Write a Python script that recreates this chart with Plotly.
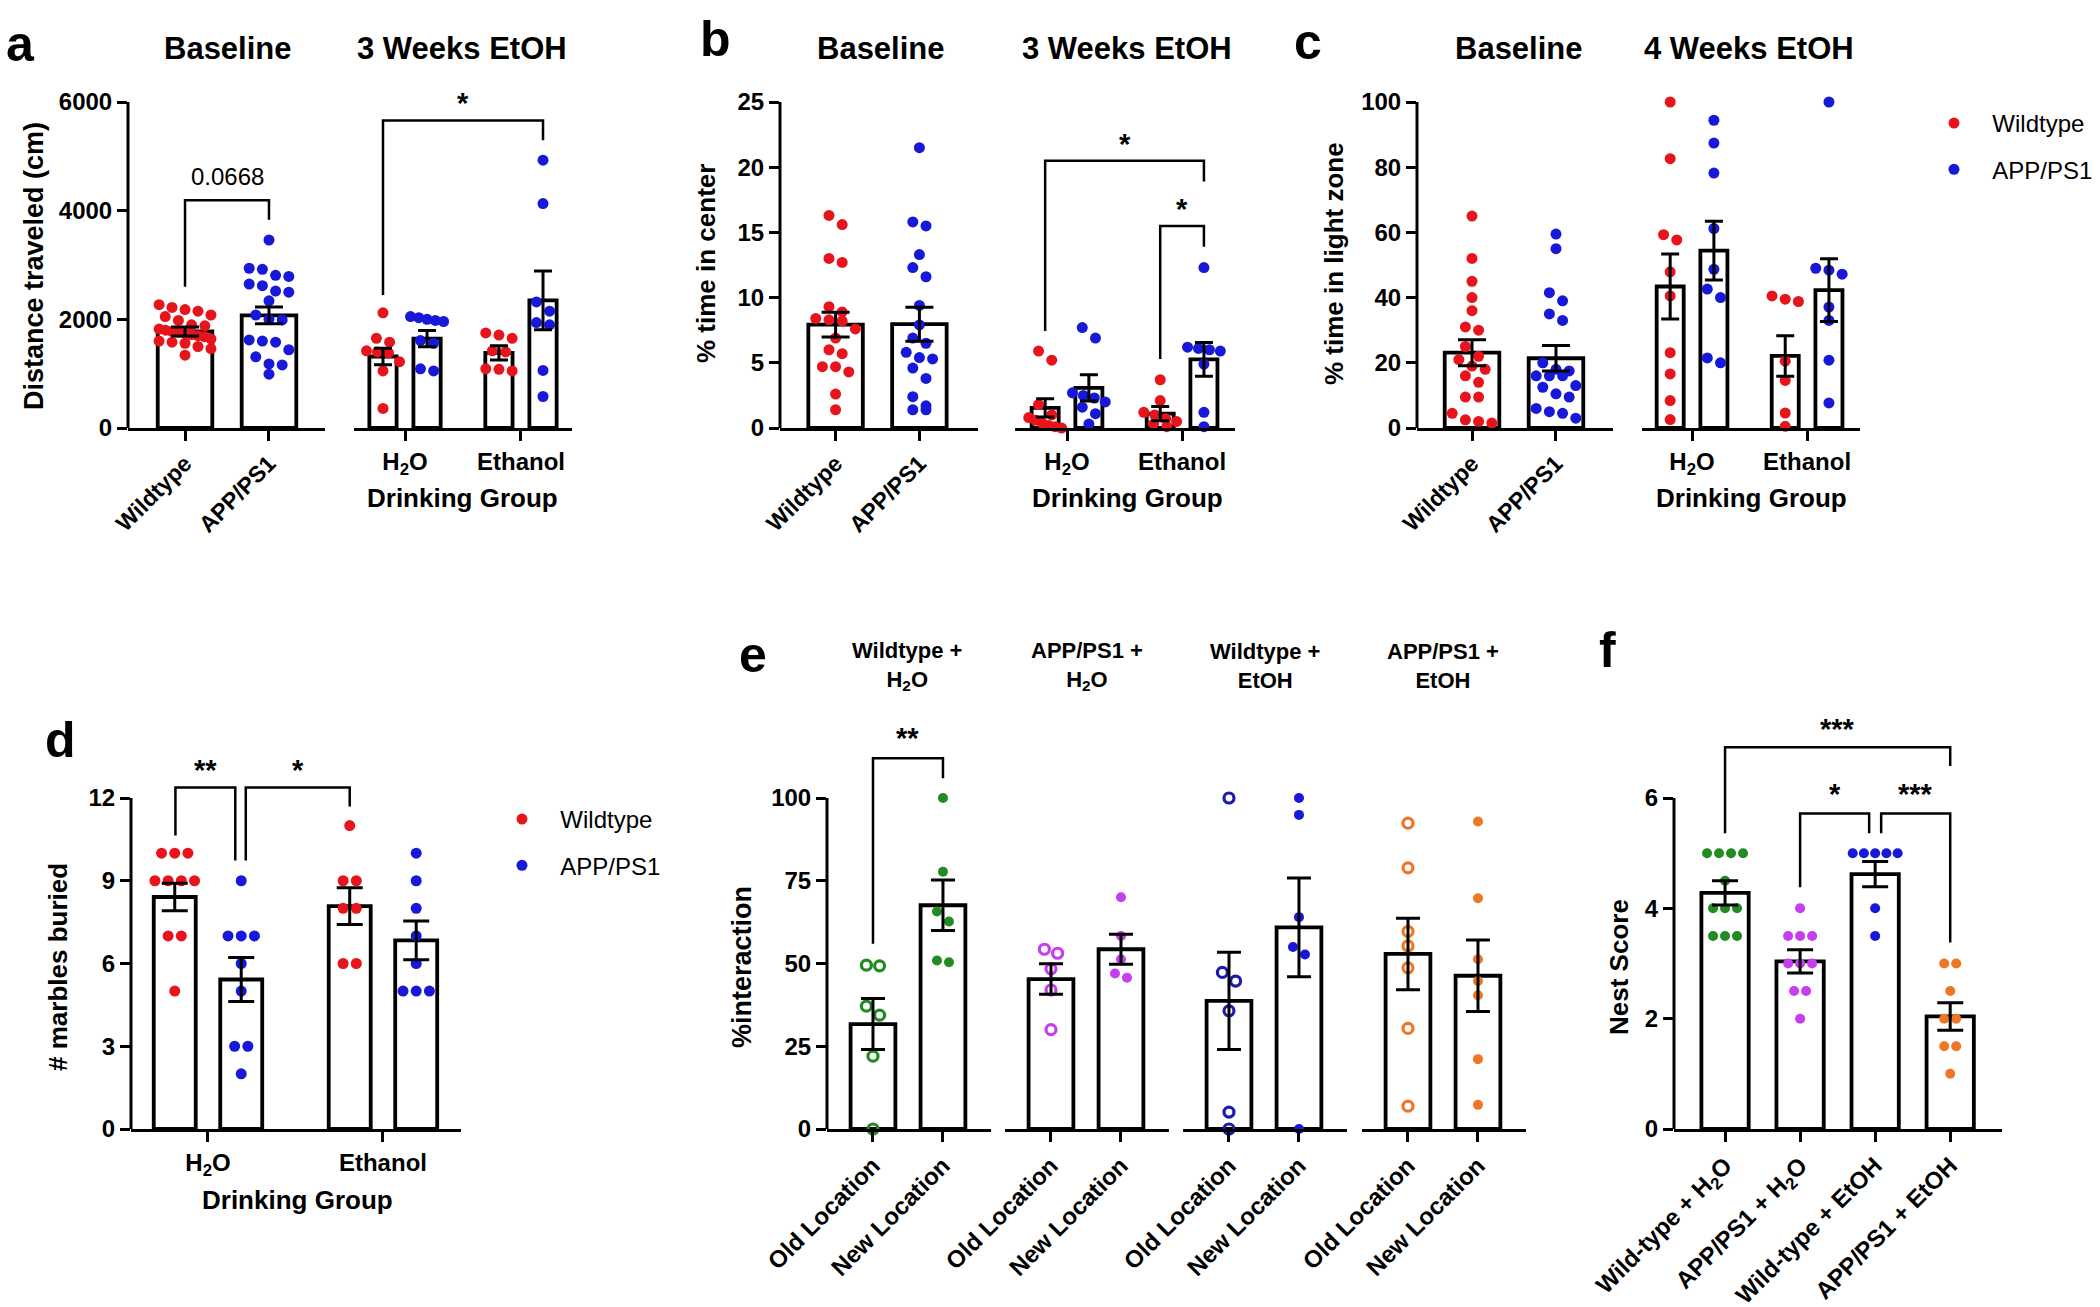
import plotly.graph_objects as go

W, H = 2100, 1307
FONT = "Liberation Sans, Arial, Helvetica, sans-serif"

RED = "#e8141c"
BLUE = "#1818d8"
GREEN = "#228b22"
MAGENTA = "#c63ef0"
NAVY = "#1c1ca8"
ORANGE = "#ef7625"

# ---------------- data ----------------
# a: distance traveled (cm)
a_wt_base = [2270, 2220, 2180, 2150, 2080, 2050, 1980, 1900, 1880, 1820, 1800, 1780,
             1760, 1740, 1720, 1700, 1680, 1640, 1600, 1580, 1560, 1500, 1460, 1340]
a_app_base = [3460, 2940, 2920, 2810, 2790, 2650, 2620, 2520, 2500, 2340, 2080, 2000,
              1990, 1620, 1600, 1580, 1440, 1310, 1180, 1160, 990]
a_base_mean = [1776, 2072]
a_base_sem = [85, 155]
a_wt_h2o = [2120, 1650, 1580, 1420, 1400, 1380, 1220, 1050, 360]
a_app_h2o = [2050, 2030, 2000, 1980, 1960, 1610, 1560, 1090, 1050]
a_wt_etoh = [1750, 1710, 1650, 1420, 1400, 1090, 1080, 1050]
a_app_etoh = [4930, 4130, 2320, 2150, 1940, 1900, 1060, 580]
a_drink_mean = [1316, 1645, 1382, 2349]
a_drink_sem = [150, 150, 130, 540]

# b: % time in center
b_wt_base = [16.3, 15.6, 13.0, 12.7, 9.3, 8.9, 8.4, 8.3, 8.2, 7.6, 6.9, 6.0, 5.7, 4.7,
             4.7, 4.3, 2.6, 1.4]
b_app_base = [21.5, 15.8, 15.5, 13.3, 12.3, 11.6, 9.4, 7.9, 6.9, 6.5, 5.8, 5.4, 5.3,
              4.6, 3.8, 2.4, 1.7, 1.4, 1.4]
b_base_mean = [7.93, 7.96]
b_base_sem = [0.95, 1.3]
b_wt_h2o = [5.9, 5.2, 1.8, 1.0, 0.8, 0.6, 0.4, 0.2, 0.1, 0.0]
b_app_h2o = [7.7, 6.9, 2.7, 2.5, 2.3, 2.0, 1.6, 1.1, 0.3]
b_wt_etoh = [3.7, 2.1, 1.2, 1.0, 0.7, 0.5, 0.3, 0.1]
b_app_etoh = [12.3, 6.2, 6.1, 6.0, 5.9, 4.9, 1.2, 0.1]
b_drink_mean = [1.54, 3.08, 1.1, 5.26]
b_drink_sem = [0.7, 1.0, 0.55, 1.3]

# c: % time in light zone
c_wt_base = [65, 52, 45, 40, 36, 31, 30, 25, 22, 21, 19, 18, 16, 14, 9.5, 9.5, 4.5, 2.5,
             2, 1.5]
c_app_base = [59.5, 55, 41.5, 39, 35, 33, 20, 18, 17.5, 16, 16, 16, 13, 12.5, 10.5, 9.5,
              6, 5, 4.5, 3]
c_base_mean = [23.1, 21.4]
c_base_sem = [4.0, 3.9]
c_wt_h2o = [100, 82.6, 59.3, 57.7, 47.9, 40.5, 23.1, 16.6, 8.4, 2.6]
c_app_h2o = [94.4, 87.4, 78.2, 61.2, 48.7, 42.6, 40.0, 21.5, 20.0]
c_wt_etoh = [40.5, 39.5, 38.8, 20.5, 14.6, 4.6, 0.5]
c_app_etoh = [100, 49.0, 48.4, 47.2, 37.1, 33.0, 20.8, 7.7]
c_drink_mean = [43.4, 54.4, 22.1, 42.3]
c_drink_sem = [10, 9, 6.2, 9.6]

# d: marbles buried
d_wt_h2o = [10, 10, 10, 9, 9, 9, 9, 7, 7, 5]
d_app_h2o = [9, 7, 7, 7, 6, 5, 3, 3, 2]
d_wt_etoh = [11, 9, 9, 8, 8, 6, 6]
d_app_etoh = [10, 9, 8, 7, 6, 5, 5, 5]
d_mean = [8.41, 5.42, 8.08, 6.84]
d_sem = [0.5, 0.8, 0.67, 0.7]

# e: % interaction, old vs new location
e_groups = ["Wildtype +<br>H<sub>2</sub>O", "APP/PS1 +<br>H<sub>2</sub>O",
            "Wildtype +<br>EtOH", "APP/PS1 +<br>EtOH"]
e_old = [[49.5, 49.3, 37.1, 34.4, 22.0, 0.0],
         [54.3, 53.1, 48.4, 42.0, 30.0],
         [100, 47.3, 44.7, 35.7, 5.1, 0.0],
         [92.4, 78.9, 59.7, 55.3, 48.7, 30.4, 6.9]]
e_new = [[100, 77.7, 65.7, 62.7, 50.9, 50.4],
         [70, 58.3, 51.3, 47.0, 45.7],
         [100, 94.9, 64, 55, 52.7, 0],
         [92.9, 69.7, 51.3, 44.7, 40.4, 21.1, 7.3]]
e_old_mean = [31.7, 45.3, 38.7, 52.9]
e_old_sem = [7.7, 4.6, 14.7, 10.8]
e_new_mean = [67.6, 54.3, 60.9, 46.3]
e_new_sem = [7.6, 4.5, 14.9, 10.8]

# f: nest score
f_labels = ["Wild-type + H<sub>2</sub>O", "APP/PS1 + H<sub>2</sub>O",
            "Wild-type + EtOH", "APP/PS1 + EtOH"]
f_points = [[5, 5, 5, 5, 4.5, 4, 4, 4, 3.5, 3.5, 3.5],
            [4, 3.5, 3.5, 3.5, 3, 3, 3, 2.5, 2.5, 2],
            [5, 5, 5, 5, 5, 4, 3.5],
            [3, 3, 2.5, 2, 2, 1.5, 1.5, 1]]
f_mean = [4.28, 3.04, 4.62, 2.04]
f_sem = [0.22, 0.21, 0.23, 0.25]

# ---------------- helpers ----------------
fig = go.Figure()
axes_layout = {}
shapes = []
annotations = []
n_axes = 0

TOP = (428, 102, 80)    # pixel row of 0, of top tick, of top of plotting area
BOT = (1129, 798, 720)


def px(x):
    return x / W


def py(y):
    return 1 - y / H


def bold(size):
    return dict(family=FONT, size=size, color="black", weight="bold")


def add_axes(x0, x1, row, top_val, xrange, yticks=None, xtickvals=(), xticktext=(),
             angle=0, xsize=23):
    global n_axes
    n_axes += 1
    suffix = "" if n_axes == 1 else str(n_axes)
    xr, yr = "x" + suffix, "y" + suffix
    zero, top, ext = row
    ymax = top_val * (zero - ext) / (zero - top)
    axes_layout["xaxis" + suffix] = dict(
        domain=[px(x0), px(x1)], range=list(xrange), anchor=yr,
        showline=True, linecolor="black", linewidth=3,
        ticks="outside", ticklen=10, tickwidth=3, tickcolor="black",
        tickvals=list(xtickvals), ticktext=list(xticktext), tickangle=angle,
        tickfont=bold(xsize), showgrid=False, zeroline=False, fixedrange=True)
    ydict = dict(domain=[py(zero), py(ext)], range=[0, ymax], anchor=xr,
                 showgrid=False, zeroline=False, showline=False, fixedrange=True)
    if yticks is None:
        ydict["visible"] = False
    else:
        ydict.update(ticks="outside", ticklen=10, tickwidth=3, tickcolor="black",
                     tickvals=yticks, tickfont=bold(24))
        # y spine stops at the top tick, like the original
        shapes.append(dict(type="line", xref=xr + " domain", yref=yr + " domain",
                           x0=0, x1=0, y0=0, y1=(zero - top) / (zero - ext),
                           line=dict(color="black", width=3)))
    axes_layout["yaxis" + suffix] = ydict
    scale = ((x1 - x0) / (xrange[1] - xrange[0]), (zero - top) / top_val)
    return xr, yr, scale


def swarm(values, center, size, scale, max_span, gap=1.2):
    # rows of points that would overlap are spread sideways, centred on the bar
    xpx, ypx = scale
    rows = []
    for v in sorted(values, reverse=True):
        if rows and abs(rows[-1][0] - v) * ypx < size:
            rows[-1].append(v)
        else:
            rows.append([v])
    xs, ys = [], []
    for row in rows:
        n = len(row)
        step = size * gap
        if n > 1:
            step = min(step, max_span / (n - 1))
        for i, v in enumerate(row):
            xs.append(center + (i - (n - 1) / 2) * step / xpx)
            ys.append(v)
    return xs, ys


def add_bars(ax, centers, means, width):
    xr, yr, _ = ax
    fig.add_trace(go.Bar(x=centers, y=means, width=width, xaxis=xr, yaxis=yr,
                         marker=dict(color="white", line=dict(color="black", width=3.8)),
                         showlegend=False, hoverinfo="skip"))


def add_dots(ax, center, values, color, bar_w, size=11, hollow=False):
    xr, yr, scale = ax
    xs, ys = swarm(values, center, size, scale, bar_w * scale[0] * 0.95)
    marker = dict(color=color, size=size, line=dict(width=0))
    if hollow:
        marker = dict(color=color, size=size - 1, symbol="circle-open", line=dict(width=3.2))
    fig.add_trace(go.Scatter(x=xs, y=ys, mode="markers", xaxis=xr, yaxis=yr,
                             cliponaxis=False, marker=marker,
                             showlegend=False, hoverinfo="skip"))


def add_sem(ax, centers, means, sems, cap):
    xr, yr, _ = ax
    fig.add_trace(go.Scatter(x=centers, y=means, mode="markers", xaxis=xr, yaxis=yr,
                             marker=dict(size=1, opacity=0), cliponaxis=False,
                             error_y=dict(type="data", array=sems, color="black",
                                          thickness=3, width=cap),
                             showlegend=False, hoverinfo="skip"))


def bracket(ax, x1, x2, y1, y2, ytop, label, ylab, size=29, weight="bold"):
    xr, yr, _ = ax
    shapes.append(dict(type="path", xref=xr, yref=yr,
                       path=f"M {x1},{y1} L {x1},{ytop} L {x2},{ytop} L {x2},{y2}",
                       line=dict(color="black", width=2.5)))
    annotations.append(dict(xref=xr, yref=yr, x=(x1 + x2) / 2, y=ylab, text=label,
                            showarrow=False, yanchor="middle",
                            font=dict(family=FONT, size=size, color="black", weight=weight)))


def text(x, y, s, size, weight="bold", angle=0):
    annotations.append(dict(xref="paper", yref="paper", x=px(x), y=py(y), text=s,
                            showarrow=False, textangle=angle, xanchor="center",
                            yanchor="middle",
                            font=dict(family=FONT, size=size, color="black", weight=weight)))


H2O = "H<sub>2</sub>O"
PAIR = [-0.19, 0.19, 0.81, 1.19]

# ---------------- top row: a, b, c ----------------
top_panels = [
    dict(left=(128, 325, (-0.679, 1.667)), right=(354, 572, (-0.44, 1.44)), top=6000,
         yticks=[0, 2000, 4000, 6000],
         base=(a_wt_base, a_app_base, a_base_mean, a_base_sem),
         drink=(a_wt_h2o, a_app_h2o, a_wt_etoh, a_app_etoh, a_drink_mean, a_drink_sem)),
    dict(left=(780, 978, (-0.663, 1.699)), right=(1015, 1235, (-0.452, 1.46)), top=25,
         yticks=[0, 5, 10, 15, 20, 25],
         base=(b_wt_base, b_app_base, b_base_mean, b_base_sem),
         drink=(b_wt_h2o, b_app_h2o, b_wt_etoh, b_app_etoh, b_drink_mean, b_drink_sem)),
    dict(left=(1417, 1613, (-0.655, 1.679)), right=(1642, 1860, (-0.435, 1.46)), top=100,
         yticks=[0, 20, 40, 60, 80, 100],
         base=(c_wt_base, c_app_base, c_base_mean, c_base_sem),
         drink=(c_wt_h2o, c_app_h2o, c_wt_etoh, c_app_etoh, c_drink_mean, c_drink_sem)),
]
top_axes = []
for p in top_panels:
    l0, l1, lr = p["left"]
    axl = add_axes(l0, l1, TOP, p["top"], lr, p["yticks"], [0, 1],
                   ["Wildtype", "APP/PS1"], angle=-45)
    wt, app, m, s = p["base"]
    add_bars(axl, [0, 1], m, 0.65)
    add_dots(axl, 0, wt, RED, 0.65)
    add_dots(axl, 1, app, BLUE, 0.65)
    add_sem(axl, [0, 1], m, s, 14)

    r0, r1, rr = p["right"]
    axr = add_axes(r0, r1, TOP, p["top"], rr, None, [0, 1], [H2O, "Ethanol"], xsize=24)
    g1, g2, g3, g4, m, s = p["drink"]
    add_bars(axr, PAIR, m, 0.235)
    for c, vals, col in zip(PAIR, [g1, g2, g3, g4], [RED, BLUE, RED, BLUE]):
        add_dots(axr, c, vals, col, 0.3)
    add_sem(axr, PAIR, m, s, 9)
    top_axes.append((axl, axr))

(a_l, a_r), (b_l, b_r), (c_l, c_r) = top_axes
bracket(a_l, 0, 1, 2600, 3835, 4190, "0.0668", 4620, size=24, weight="normal")
bracket(a_r, -0.19, 1.19, 2447, 5296, 5658, "*", 5980)
bracket(b_r, -0.19, 1.19, 7.44, 18.9, 20.5, "*", 21.8)
bracket(b_r, 0.81, 1.19, 5.3, 13.9, 15.5, "*", 16.8)

# ---------------- d ----------------
ax_d = add_axes(131, 461, BOT, 12, (-0.44, 1.446), [0, 3, 6, 9, 12], [0, 1],
                [H2O, "Ethanol"], xsize=24)
add_bars(ax_d, PAIR, d_mean, 0.24)
for c, vals, col in zip(PAIR, [d_wt_h2o, d_app_h2o, d_wt_etoh, d_app_etoh],
                        [RED, BLUE, RED, BLUE]):
    add_dots(ax_d, c, vals, col, 0.24)
add_sem(ax_d, PAIR, d_mean, d_sem, 13)
bracket(ax_d, -0.186, 0.156, 10.64, 9.73, 12.38, "**", 13.0)
bracket(ax_d, 0.216, 0.81, 9.73, 11.69, 12.38, "*", 13.0)

# ---------------- e ----------------
e_colors = [GREEN, MAGENTA, NAVY, ORANGE]
e_fill = [GREEN, MAGENTA, BLUE, ORANGE]
e_axes = []
for i, start in enumerate([827, 1005, 1183, 1362]):
    ax = add_axes(start, start + 164, BOT, 100, (-0.657, 1.686),
                  [0, 25, 50, 75, 100] if i == 0 else None, [0, 1],
                  ["Old Location", "New Location"], angle=-45, xsize=24)
    add_bars(ax, [0, 1], [e_old_mean[i], e_new_mean[i]], 0.64)
    add_dots(ax, 0, e_old[i], e_colors[i], 0.64, size=11, hollow=True)
    add_dots(ax, 1, e_new[i], e_fill[i], 0.64, size=10)
    add_sem(ax, [0, 1], [e_old_mean[i], e_new_mean[i]], [e_old_sem[i], e_new_sem[i]], 12)
    e_axes.append(ax)
bracket(e_axes[0], 0, 1, 56, 106, 112, "**", 118)

# ---------------- f ----------------
ax_f = add_axes(1674, 2002, BOT, 6, (-0.68, 3.69), [0, 2, 4, 6], [0, 1, 2, 3], f_labels,
                angle=-45, xsize=24)
add_bars(ax_f, [0, 1, 2, 3], f_mean, 0.63)
for i, col in enumerate([GREEN, MAGENTA, BLUE, ORANGE]):
    add_dots(ax_f, i, f_points[i], col, 0.63, size=10)
add_sem(ax_f, [0, 1, 2, 3], f_mean, f_sem, 13)
bracket(ax_f, 0, 3, 5.36, 6.58, 6.92, "***", 7.25)
bracket(ax_f, 1, 1.92, 4.38, 5.36, 5.72, "*", 6.08)
bracket(ax_f, 2.08, 3, 5.36, 3.38, 5.72, "***", 6.08)

# ---------------- legends ----------------
NB = "\u00a0\u00a0"
for leg, suffix in [("legend", "1"), ("legend2", "2")]:
    fig.add_trace(go.Scatter(x=[None], y=[None], mode="markers", name=NB + "Wildtype",
                             marker=dict(color=RED, size=11), legend=leg,
                             legendgroup="wt" + suffix))
    fig.add_trace(go.Scatter(x=[None], y=[None], mode="markers", name=NB + "APP/PS1",
                             marker=dict(color=BLUE, size=11), legend=leg,
                             legendgroup="app" + suffix))

# ---------------- text ----------------
for s, x, y in [("a", 20, 44), ("b", 715, 39), ("c", 1308, 42),
                ("d", 60, 740), ("e", 753, 655), ("f", 1607, 650)]:
    text(x, y, s, 50)
for s, x in [("Baseline", 228), ("3 Weeks EtOH", 462), ("Baseline", 881),
             ("3 Weeks EtOH", 1127), ("Baseline", 1519), ("4 Weeks EtOH", 1749)]:
    text(x, 48, s, 31)
for x, y in [(462, 498), (1127, 498), (1751, 498), (297, 1200)]:
    text(x, y, "Drinking Group", 26)
text(34, 266, "Distance traveled (cm)", 27, angle=-90)
text(706, 264, "% time in center", 26, angle=-90)
text(1334, 264, "% time in light zone", 26, angle=-90)
text(58, 967, "# marbles buried", 26, angle=-90)
text(742, 967, "%interaction", 27, angle=-90)
text(1619, 967, "Nest Score", 26, angle=-90)
for s, x in zip(e_groups, [907, 1087, 1265, 1443]):
    text(x, 666, s, 22)

legend_style = dict(xanchor="left", yanchor="top", bgcolor="rgba(0,0,0,0)",
                    font=dict(family=FONT, size=24, color="black"),
                    tracegroupgap=12, itemwidth=40)
fig.update_layout(
    width=W, height=H, margin=dict(l=0, r=0, t=0, b=0, autoexpand=False), autosize=False,
    paper_bgcolor="white", plot_bgcolor="white", barmode="overlay",
    showlegend=True, shapes=shapes, annotations=annotations,
    legend=dict(x=px(1929), y=py(101), **legend_style),
    legend2=dict(x=px(497), y=py(797), **legend_style),
    **axes_layout)

# page margin off so the figure sits at the window's top-left corner
fig.write_html("out.html", config={"displayModeBar": False},
               post_script="document.body.style.margin = '0px';")
